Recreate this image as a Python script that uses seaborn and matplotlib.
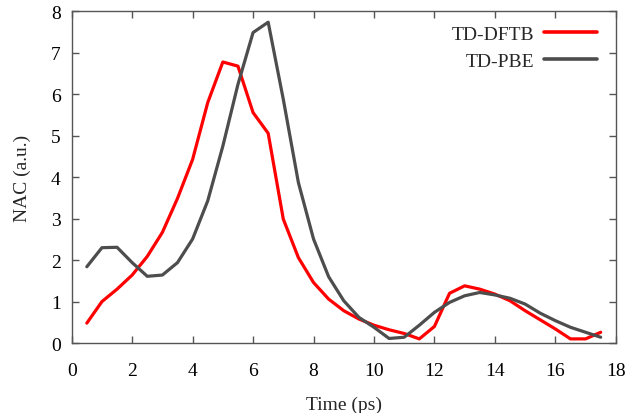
import numpy as np
import pandas as pd
import matplotlib
matplotlib.use("Agg")
import matplotlib.pyplot as plt
import seaborn as sns

time_ps = [0.5, 1.0, 1.5, 2.0, 2.5, 3.0, 3.5, 4.0, 4.5, 5.0, 5.5, 6.0, 6.5, 7.0, 7.5,
           8.0, 8.5, 9.0, 9.5, 10.0, 10.5, 11.0, 11.5, 12.0, 12.5, 13.0, 13.5, 14.0,
           14.5, 15.0, 15.5, 16.0, 16.5, 17.0, 17.5]
td_dftb = [0.48, 1.00, 1.30, 1.64, 2.09, 2.67, 3.49, 4.43, 5.80, 6.78, 6.68, 5.56, 5.06,
           2.99, 2.06, 1.46, 1.06, 0.78, 0.58, 0.43, 0.32, 0.23, 0.10, 0.40, 1.20, 1.38,
           1.30, 1.18, 1.02, 0.78, 0.56, 0.34, 0.10, 0.10, 0.26]
td_pbe = [1.84, 2.30, 2.31, 1.94, 1.61, 1.64, 1.94, 2.51, 3.43, 4.75, 6.24, 7.49, 7.74,
          5.88, 3.87, 2.51, 1.60, 1.02, 0.62, 0.38, 0.11, 0.14, 0.43, 0.74, 0.98, 1.14,
          1.22, 1.16, 1.08, 0.94, 0.72, 0.54, 0.38, 0.26, 0.14]
series_names = ["TD-DFTB", "TD-PBE"]
x_ticks = [0, 2, 4, 6, 8, 10, 12, 14, 16, 18]
y_ticks = [0, 1, 2, 3, 4, 5, 6, 7, 8]

df = pd.DataFrame({
    "Time": time_ps * 2,
    "NAC": td_dftb + td_pbe,
    "Method": [series_names[0]] * len(time_ps) + [series_names[1]] * len(time_ps),
})

sns.set_style("ticks")
plt.rcParams["font.family"] = ["Liberation Serif", "DejaVu Serif"]

fig = plt.figure(figsize=(6.29, 4.14), dpi=100)
ax = fig.add_axes([0.114, 0.169, 0.865, 0.801])

sns.lineplot(data=df, x="Time", y="NAC", hue="Method",
             palette={"TD-DFTB": "#ff0000", "TD-PBE": "#4d4d4d"},
             linewidth=2.3, ax=ax, legend=True)

ax.set_xlim(0, 18)
ax.set_ylim(0, 8)
ax.set_xticks(x_ticks)
ax.set_yticks(y_ticks)
ax.tick_params(direction="in", length=5, width=1, colors="#555555",
               labelcolor="black", labelsize=14, top=True, right=True)
ax.tick_params(axis="x", pad=14)
ax.tick_params(axis="y", pad=8)
for s in ax.spines.values():
    s.set_visible(True)
    s.set_color("#555555")
    s.set_linewidth(1.0)
ax.set_xlabel("Time (ps)", fontsize=14, labelpad=12)
ax.set_ylabel("NAC (a.u.)", fontsize=14, labelpad=14)

leg = ax.legend(loc="upper right", bbox_to_anchor=(0.965, 0.958), frameon=False,
                markerfirst=False, fontsize=14, handlelength=2.7, handletextpad=0.5,
                borderaxespad=0, borderpad=0, labelspacing=0.5)
for line in leg.get_lines():
    line.set_linewidth(2.6)

fig.savefig("out.png", dpi=100)
